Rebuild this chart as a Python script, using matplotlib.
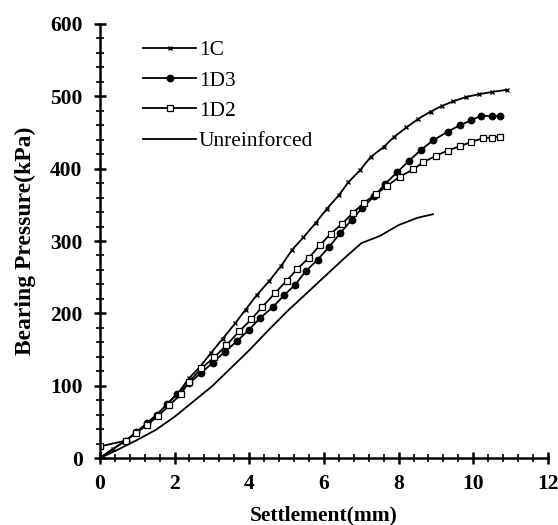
import matplotlib
matplotlib.use("Agg")
import matplotlib.pyplot as plt
from matplotlib.ticker import MultipleLocator

plt.rcParams['font.family'] = ['Liberation Serif', 'DejaVu Serif']

x_1c = [0, 0.36, 0.69, 0.98, 1.27, 1.52, 1.80, 2.10, 2.38, 2.68, 2.97, 3.29, 3.62, 3.90, 4.20, 4.54, 4.86, 5.15, 5.45, 5.78, 6.07, 6.41, 6.65, 6.97, 7.25, 7.60, 7.88, 8.21, 8.53, 8.86, 9.17, 9.46, 9.80, 10.16, 10.50, 10.89]
y_1c = [0, 13, 24, 35, 47, 59, 75, 90, 110, 126, 145, 165, 186, 205, 225, 245, 266, 288, 305, 325, 344, 364, 381, 398, 416, 430, 444, 457, 469, 479, 487, 493, 499, 503, 506, 509]

x_1d3 = [0, 0.69, 0.98, 1.25, 1.52, 1.80, 2.07, 2.40, 2.72, 3.03, 3.35, 3.68, 3.99, 4.28, 4.64, 4.93, 5.22, 5.51, 5.83, 6.14, 6.44, 6.74, 7.03, 7.35, 7.64, 7.96, 8.28, 8.60, 8.92, 9.31, 9.64, 9.95, 10.20, 10.50, 10.71]
y_1d3 = [0, 24, 36, 48, 60, 74, 89, 104, 118, 132, 147, 162, 177, 193, 209, 225, 239, 258, 274, 292, 311, 329, 346, 362, 379, 395, 411, 426, 439, 451, 460, 467, 473, 473, 473]

x_1d2 = [0, 0.69, 0.98, 1.27, 1.56, 1.86, 2.17, 2.38, 2.72, 3.06, 3.39, 3.73, 4.06, 4.35, 4.69, 5.00, 5.28, 5.60, 5.89, 6.18, 6.49, 6.78, 7.08, 7.39, 7.69, 8.03, 8.39, 8.66, 9.01, 9.31, 9.64, 9.95, 10.25, 10.50, 10.71]
y_1d2 = [16, 24, 35, 46, 58, 73, 88, 105, 124, 139, 156, 175, 192, 209, 228, 245, 261, 277, 294, 310, 324, 339, 353, 365, 376, 389, 399, 409, 418, 425, 431, 437, 442, 443, 444]

x_unr = [0, 0.5, 1.0, 1.5, 2.0, 2.5, 3.0, 3.5, 4.0, 4.5, 5.0, 5.5, 6.0, 6.5, 7.0, 7.5, 8.0, 8.5, 8.92]
y_unr = [0, 12, 25, 39, 57, 78, 99, 124, 149, 176, 202, 226, 250, 274, 297, 307, 322, 332, 337]

fig = plt.figure(figsize=(5.58, 5.25), dpi=100)
ax = fig.add_axes([0.179, 0.1276, 0.803, 0.8267])

lw = 1.3
ax.plot(x_1c, y_1c, color='black', lw=lw, marker='x', ms=3.2, mew=1.0, label='1C')
ax.plot(x_1d3, y_1d3, color='black', lw=lw, marker='o', ms=4.6, mfc='black', label='1D3')
ax.plot(x_1d2, y_1d2, color='black', lw=lw, marker='s', ms=4.0, mfc='white', mew=0.9, label='1D2')
ax.plot(x_unr, y_unr, color='black', lw=lw, label='Unreinforced')

ax.set_xlim(0, 12)
ax.set_ylim(0, 600)
ax.xaxis.set_major_locator(MultipleLocator(2))
ax.xaxis.set_minor_locator(MultipleLocator(0.4))
ax.yaxis.set_major_locator(MultipleLocator(100))
ax.yaxis.set_minor_locator(MultipleLocator(20))

for s in ['top', 'right']:
    ax.spines[s].set_visible(False)
for s in ['left', 'bottom']:
    ax.spines[s].set_linewidth(1.8)

ax.tick_params(which='major', direction='inout', length=9, width=1.8, labelsize=15.5)
ax.tick_params(which='minor', direction='inout', length=6, width=1.2)
for lab in ax.get_xticklabels() + ax.get_yticklabels():
    lab.set_fontweight('bold')
ax.tick_params(axis='x', which='major', pad=7)
ax.tick_params(axis='y', which='major', pad=8)

ax.set_xlabel('Settlement(mm)', fontsize=15.5, fontweight='bold', labelpad=8)
ax.set_ylabel('Bearing Pressure(kPa)', fontsize=17, fontweight='bold', labelpad=10)

leg = ax.legend(loc='upper left', bbox_to_anchor=(0.0967, 0.962), frameon=False, fontsize=15.4,
                handlelength=2.48, handletextpad=0.12, labelspacing=0.48,
                borderaxespad=0, borderpad=0)

fig.savefig('out.png', dpi=100)
